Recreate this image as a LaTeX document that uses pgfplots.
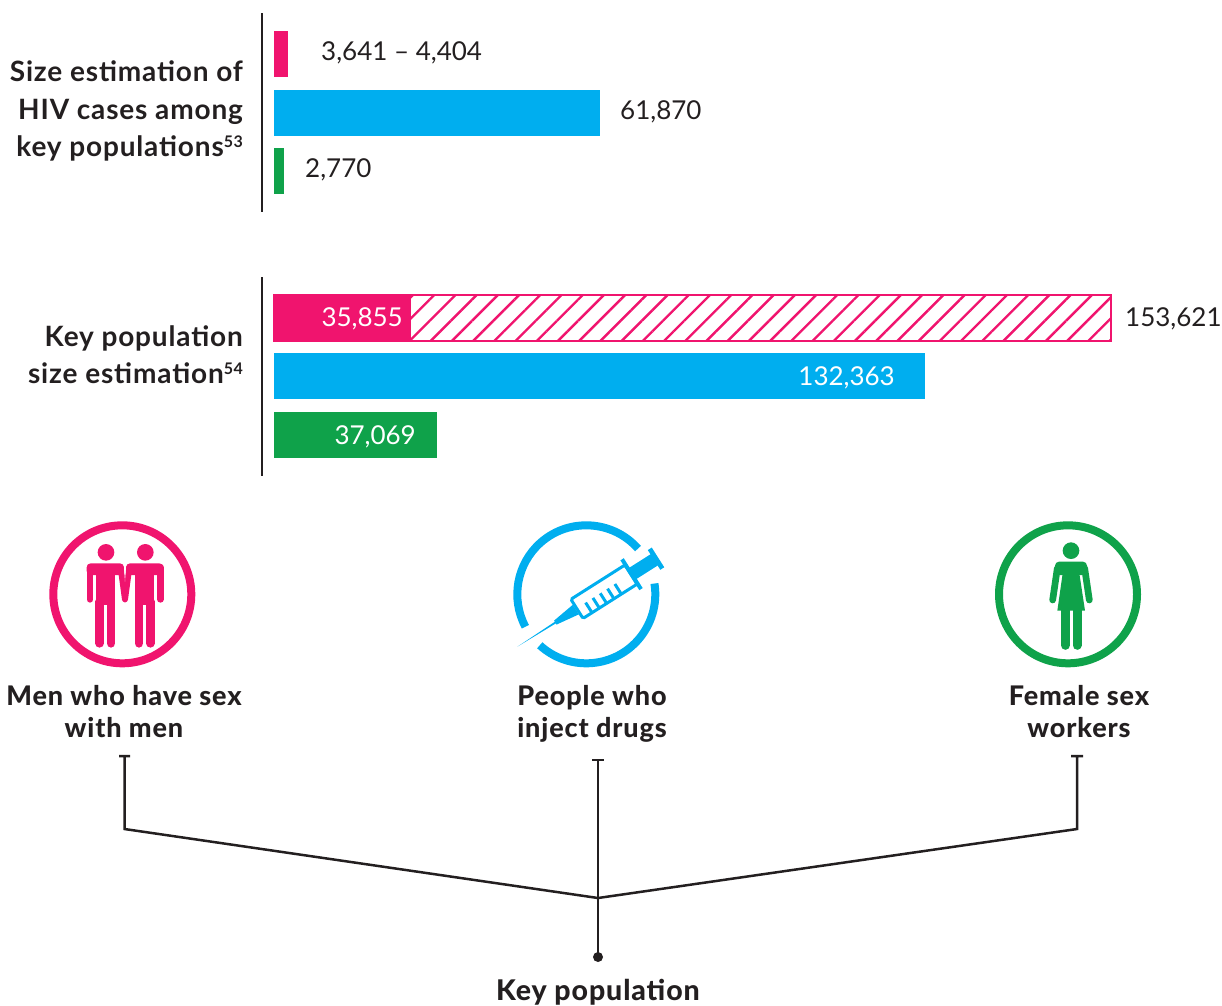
\documentclass[border=0pt]{standalone}
\usepackage{fontspec}
\usepackage{pgfplots}
\pgfplotsset{compat=1.18}
\usetikzlibrary{patterns.meta}
\setmainfont{Lato}
\newfontfamily\med[LetterSpace=3.0]{Lato Bold}
\newfontfamily\hvy[LetterSpace=3.2]{Lato Heavy}
\definecolor{pk}{HTML}{F0146E}
\definecolor{bl}{HTML}{00AEEF}
\definecolor{gr}{HTML}{0FA24A}
\definecolor{ink}{HTML}{231F20}
% one hidden axis per bar: the source graphic's bars are not drawn to one common scale
\newcommand\onebar[6]{%
\begin{axis}[at={(#1pt,-#2pt)},anchor=north west,width=#3pt,height=#4pt,scale only axis,
  hide axis,clip=false,xmin=0,xmax=#5,ymin=-0.5,ymax=0.5]
\addplot[xbar,bar shift=0pt,bar width=#4pt,#6] coordinates {(#5,0)};
\end{axis}}
\newcommand\sz{\fontsize{26}{30}\selectfont}
\newcommand\sups[1]{\raisebox{9pt}{\fontsize{16}{18}\selectfont #1}}
\begin{document}
\begin{tikzpicture}[x=1pt,y=1pt]
\path[use as bounding box] (0,0) rectangle (1222,-1005);
% axis rules
\draw[ink,line width=2.8pt] (262,-13)--(262,-212);
\draw[ink,line width=2.8pt] (262,-277)--(262,-476);
% upper panel
\onebar{274}{31}{14}{46}{4404}{fill=pk,draw=none}
\onebar{274}{90}{326}{46}{61870}{fill=bl,draw=none}
\onebar{274}{148}{10}{46}{2770}{fill=gr,draw=none}
% lower panel
\onebar{274}{295}{837}{46}{153621}{draw=pk,line width=2.2pt,pattern={Lines[angle=45,distance=15pt,line width=2.4pt]},pattern color=pk}
\onebar{273}{294}{138}{48}{35855}{fill=pk,draw=none}
\onebar{274}{353}{651}{46}{132363}{fill=bl,draw=none}
\onebar{274}{412}{163}{46}{37069}{fill=gr,draw=none}
% values
\tikzset{lab/.style={inner sep=0pt,font=\sz,text=ink},wl/.style={inner sep=0pt,font=\sz,text=white}}
\node[lab,anchor=base west] at (321,-60) {3,641 -- 4,404};
\node[lab,anchor=base west] at (620,-119) {61,870};
\node[lab,anchor=base west] at (305,-177) {2,770};
\node[wl,anchor=base east] at (403,-326) {35,855};
\node[lab,anchor=base west] at (1125,-326) {153,621};
\node[wl,anchor=base east] at (895,-385) {132,363};
\node[wl,anchor=base east] at (416,-444) {37,069};
% panel titles
\tikzset{ttl/.style={inner sep=0pt,anchor=base east,text=ink,font=\med\fontsize{28}{30}\selectfont}}
\node[ttl] at (243,-81) {Size estimation of};
\node[ttl] at (243,-119) {HIV cases among};
\node[ttl] at (243,-156) {key populations\sups{53}};
\node[ttl] at (243,-346) {Key population};
\node[ttl] at (243,-383) {size estimation\sups{54}};
% group names
\tikzset{grp/.style={inner sep=0pt,anchor=base,text=ink,font=\hvy\fontsize{27}{30}\selectfont}}
\node[grp] at (124,-705) {Men who have sex};
\node[grp] at (124,-737) {with men};
\node[grp] at (592,-705) {People who};
\node[grp] at (592,-737) {inject drugs};
\node[grp] at (1079,-705) {Female sex};
\node[grp] at (1079,-737) {workers};
\node[grp,font=\hvy\fontsize{28.5}{30}\selectfont] at (598,-1000) {Key population};
% connector
\draw[ink,line width=2.5pt] (119,-756)--(130,-756) (124.5,-756)--(124.5,-829)--(598,-898)--(1077,-829)--(1077,-756) (1071,-756)--(1083,-756);
\draw[ink,line width=2.5pt] (592,-760)--(604,-760) (598,-760)--(598,-957);
\fill[ink] (598,-957) circle (5);
% men icon
\draw[pk,line width=8pt] (122.3,-594.3) circle (69);
\begin{scope}[shift={(30pt,-510pt)},x=0.3333pt,y=-0.3333pt]
\foreach \d in {0,118}{
\fill[pk] (228+\d,127) circle (25*0.3333pt);
\fill[pk,rounded corners=4pt] (170+\d,195)--(170+\d,160)--(282+\d,160)--(282+\d,195)--cycle;
\fill[pk] (197+\d,185) rectangle (255+\d,285);
\draw[pk,line width=8.6pt,line cap=round] (209+\d,275)--(209+\d,400) (243+\d,275)--(243+\d,400);
}
\draw[pk,line width=6.7pt,line cap=round] (180,172)--(180,268) (391,172)--(391,268);
\draw[pk,line width=6pt,line cap=round] (272,172)--(285,268) (298,172)--(285,268);
\fill[white] (285,168)--(282,168)--(285,215)--(288,168)--cycle;
\end{scope}
% syringe icon
\draw[bl,line width=8pt] (586.3,-594.3)+(41.5:69) arc[start angle=41.5,end angle=208,radius=69];
\draw[bl,line width=8pt] (586.3,-594.3)+(227.6:69) arc[start angle=227.6,end angle=369,radius=69];
\begin{scope}[shift={(517.3pt,-646.7pt)},rotate=32.4,x=0.3333pt,y=0.3333pt]
\fill[bl] (0,0)--(140,3)--(140,-3)--cycle;
\fill[bl] (135,7)--(208,17)--(208,-17)--(135,-7)--cycle;
\draw[bl,line width=3pt,fill=white,rounded corners=1.5pt] (212,-34) rectangle (404,34);
\foreach \s in {244,270,296,322,348}{\draw[bl,line width=3pt] (\s,-34)--(\s,2);}
\fill[bl] (400,-53) rectangle (412,53);
\fill[bl] (410,-20) rectangle (488,20);
\fill[bl] (486,-35) rectangle (500,35);
\end{scope}
% woman icon
\draw[gr,line width=8pt] (1068,-594.3) circle (69);
\begin{scope}[shift={(980pt,-510pt)},x=0.3333pt,y=-0.3333pt]
\fill[gr] (273,122) circle (25*0.3333pt);
\fill[gr,rounded corners=4pt] (225,195)--(225,155)--(321,155)--(321,195)--cycle;
\fill[gr] (248,190)--(298,190)--(315,302)--(232,302)--cycle;
\draw[gr,line width=6.7pt,line cap=round] (232,175)--(218,270) (314,175)--(328,270);
\draw[gr,line width=9pt,line cap=round] (256,300)--(256,406) (291,300)--(291,406);
\end{scope}
\end{tikzpicture}
\end{document}
